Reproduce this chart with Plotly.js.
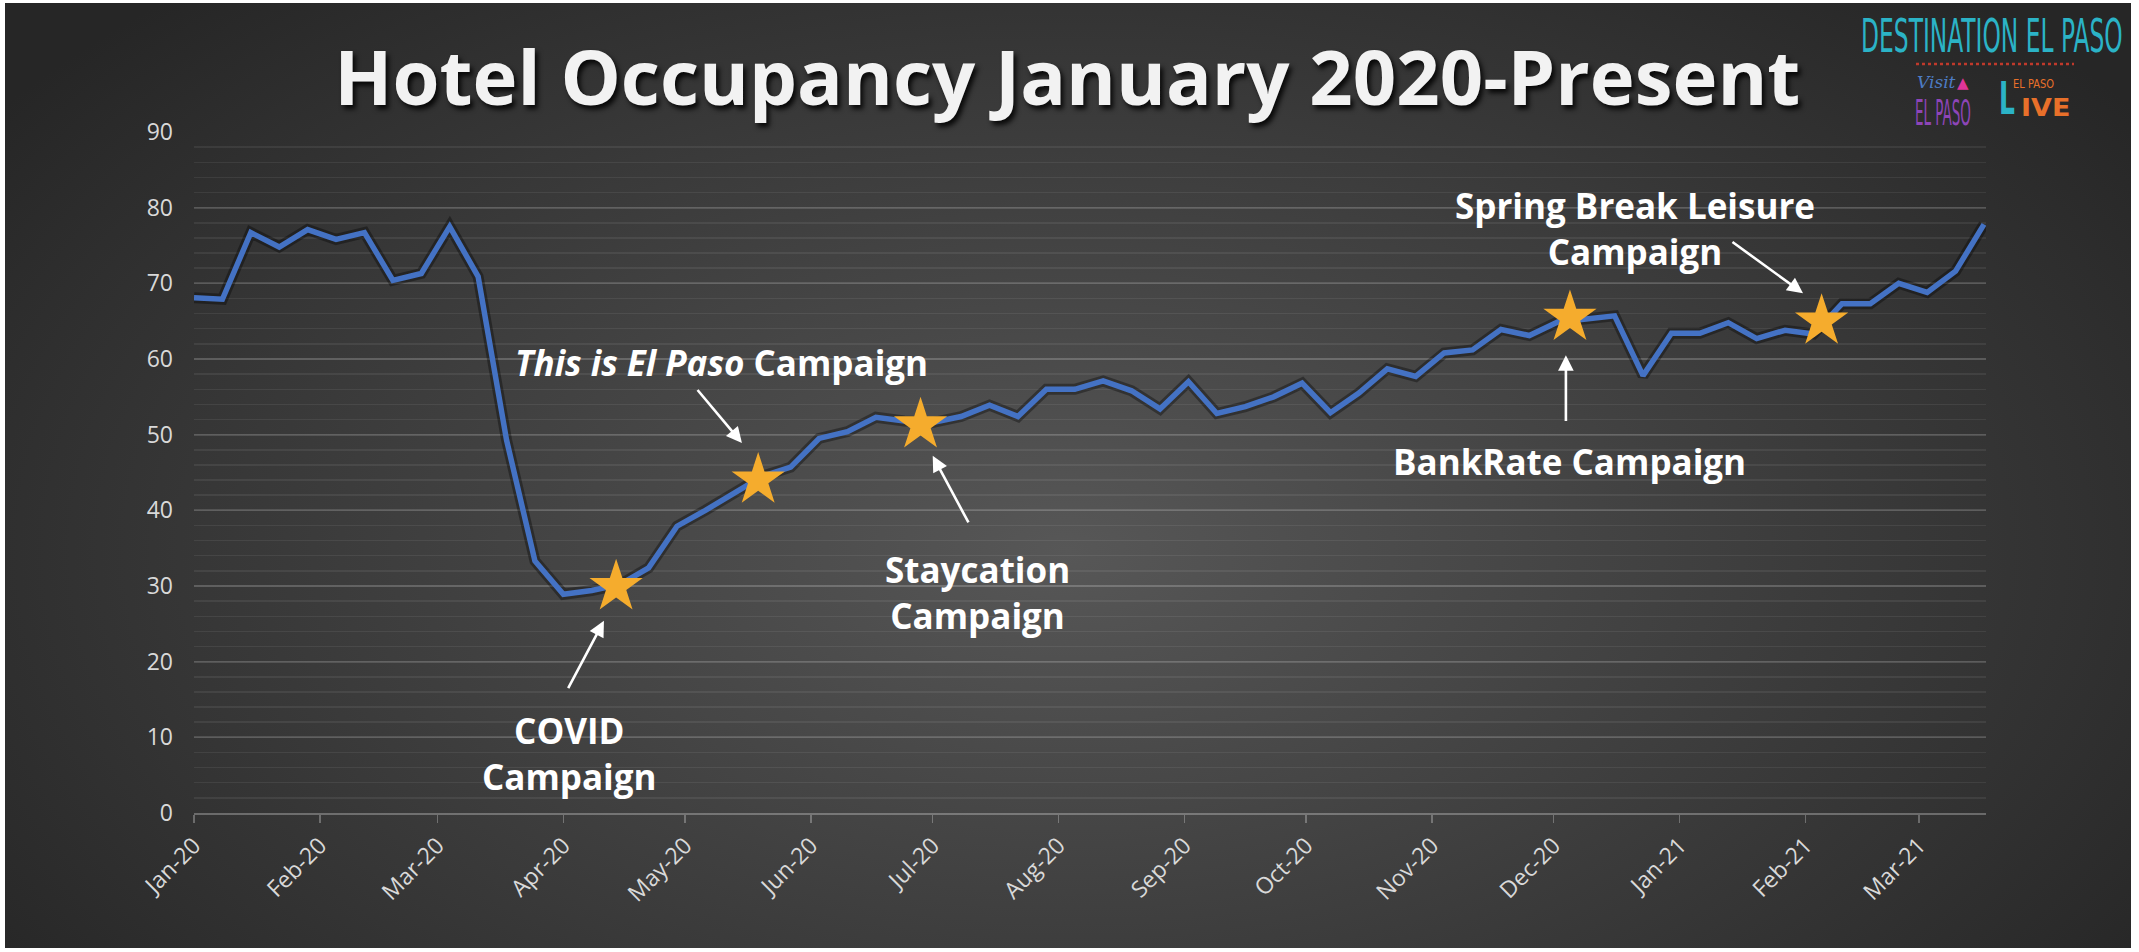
<!DOCTYPE html>
<html>
<head>
<meta charset="utf-8">
<script src="https://cdn.plot.ly/plotly-3.0.1.min.js"></script>
<style>
  html, body { margin: 0; padding: 0; background: #ffffff; width: 2139px; height: 952px; overflow: hidden; }
  #bg { position: absolute; left: 5px; top: 3px; right: 8px; bottom: 4px;
        background: radial-gradient(ellipse 62% 80% at 50% 58%, #575757 0%, #414141 45%, #262626 100%); }
  #chart { position: absolute; left: 0; top: 0; width: 2139px; height: 952px; }
</style>
</head>
<body>
<div id="bg"></div>
<div id="chart"></div>
<script>
// ---- Data (weekly hotel occupancy, %) ----
const weeks = [
  '2020-01-04','2020-01-11','2020-01-18','2020-01-25',
  '2020-02-01','2020-02-08','2020-02-15','2020-02-22','2020-02-29',
  '2020-03-07','2020-03-14','2020-03-21','2020-03-28',
  '2020-04-04','2020-04-11','2020-04-18','2020-04-25',
  '2020-05-02','2020-05-09','2020-05-16','2020-05-23','2020-05-30',
  '2020-06-06','2020-06-13','2020-06-20','2020-06-27',
  '2020-07-04','2020-07-11','2020-07-18','2020-07-25',
  '2020-08-01','2020-08-08','2020-08-15','2020-08-22','2020-08-29',
  '2020-09-05','2020-09-12','2020-09-19','2020-09-26',
  '2020-10-03','2020-10-10','2020-10-17','2020-10-24','2020-10-31',
  '2020-11-07','2020-11-14','2020-11-21','2020-11-28',
  '2020-12-05','2020-12-12','2020-12-19','2020-12-26',
  '2021-01-02','2021-01-09','2021-01-16','2021-01-23','2021-01-30',
  '2021-02-06','2021-02-13','2021-02-20','2021-02-27',
  '2021-03-06','2021-03-13','2021-03-20'
];
const occupancy = [
  68.1, 67.9, 76.7, 74.8,
  77.1, 75.8, 76.7, 70.4, 71.3,
  77.5, 70.9, 49.3, 33.3,
  28.9, 29.4, 30.2, 32.4,
  37.9, 40.0, 42.3, 44.5, 45.7,
  49.5, 50.4, 52.3, 51.8,
  51.6, 52.4, 53.9, 52.4,
  56.0, 56.0, 57.1, 55.8, 53.4,
  57.0, 52.8, 53.7, 55.0,
  56.8, 52.9, 55.5, 58.7, 57.7,
  60.8, 61.2, 63.9, 63.1,
  64.9, 65.3, 65.7, 57.8,
  63.4, 63.4, 64.8, 62.7, 63.8,
  63.3, 67.3, 67.3, 70.0,
  68.8, 71.6, 77.8
];
// Campaign launch markers (stars)
const campaignDates  = ['2020-04-17', '2020-05-22', '2020-07-01', '2020-12-08', '2021-02-08'];
const campaignValues = [29.9, 44.0, 51.3, 65.5, 65.0];
const campaignLabels = [
  'COVID<br>Campaign',
  '<i>This is El Paso</i> Campaign',
  'Staycation<br>Campaign',
  'BankRate Campaign',
  'Spring Break Leisure<br>Campaign'
];
const yTickValues = [0, 10, 20, 30, 40, 50, 60, 70, 80, 90];

// ---- Geometry helpers (paper coords from pixels for logo items) ----
const L = 194, R = 153, T = 132, B = 139, W = 2139, H = 952;
const pw = W - L - R, ph = H - T - B;
const px = x => (x - L) / pw;
const py = y => (H - B - y) / ph;

const labelFont = { family: 'Open Sans, sans-serif', size: 35, color: '#ffffff' };
const narrow = 'Liberation Sans Narrow, DejaVu Sans Condensed, sans-serif';

const traces = [
  { // soft shadow under the line
    x: weeks, y: occupancy, type: 'scatter', mode: 'lines',
    line: { color: 'rgba(0,0,0,0.35)', width: 11, shape: 'linear' },
    hoverinfo: 'skip', showlegend: false
  },
  {
    x: weeks, y: occupancy, type: 'scatter', mode: 'lines', name: 'Occupancy',
    line: { color: '#4472C4', width: 5.5, shape: 'linear' },
    showlegend: false
  },
  {
    x: campaignDates, y: campaignValues, type: 'scatter', mode: 'markers',
    marker: { symbol: 'star', size: 40, color: '#F5AC2D', line: { width: 0 } },
    showlegend: false
  }
];

const arrow = (hx, hy, tx, ty) => ({
  x: hx, y: hy, ax: tx, ay: ty, xref: 'x', yref: 'y', axref: 'x', ayref: 'y',
  text: '', showarrow: true, arrowhead: 2, arrowsize: 1.2, arrowwidth: 2.6,
  arrowcolor: '#ffffff', standoff: 0, startstandoff: 0
});
const label = (x, y, i) => ({
  x: x, y: y, xref: 'x', yref: 'y', text: '<b>' + campaignLabels[i] + '</b>',
  showarrow: false, font: labelFont, xanchor: 'center', yanchor: 'middle', align: 'center'
});
const logo = (x, y, text, font) => ({
  xref: 'paper', yref: 'paper', x: px(x), y: py(y), text: text,
  showarrow: false, xanchor: 'center', yanchor: 'middle', font: font
});

const annotations = [
  label('2020-04-05 14:00', 7.9, 0),
  label('2020-05-13', 59.6, 1),
  label('2020-07-15', 29.1, 2),
  label('2020-12-08', 46.4, 3),
  label('2020-12-24', 77.2, 4),
  arrow('2020-04-14', 25.4, '2020-04-05', 16.3),
  arrow('2020-05-18', 48.9, '2020-05-06 18:00', 56.1),
  arrow('2020-07-04', 47.2, '2020-07-13', 38.2),
  arrow('2020-12-07', 60.5, '2020-12-07', 51.6),
  arrow('2021-02-03 10:00', 68.7, '2021-01-16 16:00', 75.6),
  // logo (indices 10..16)
  logo(1992, 36, 'DESTINATION EL PASO', { family: narrow, size: 26, color: '#2BB3C6' }),
  logo(1936, 82, '<i>Visit</i>', { family: 'DejaVu Serif, serif', size: 17, color: '#4d7cc4' }),
  logo(1963, 83, '▲', { family: 'DejaVu Sans, sans-serif', size: 15, color: '#e0359a' }),
  logo(1943, 113, 'EL PASO', { family: narrow, size: 15, color: '#8E45B8' }),
  logo(2007, 98, 'L', { family: 'DejaVu Sans, sans-serif', size: 25, weight: 'bold', color: '#2BB3C6' }),
  logo(2034, 85, 'EL PASO', { family: narrow, size: 11, color: '#E8702A' }),
  logo(2045, 108, 'IVE', { family: 'DejaVu Sans, sans-serif', size: 27, weight: 'bold', color: '#E8702A' })
];

const shapes = [
  { type: 'line', xref: 'paper', yref: 'paper', x0: px(1916), x1: px(2074), y0: py(64), y1: py(64),
    line: { color: '#C0392B', width: 2.5, dash: 'dot' } }
];

const layout = {
  width: W, height: H,
  paper_bgcolor: 'rgba(0,0,0,0)', plot_bgcolor: 'rgba(0,0,0,0)',
  margin: { l: L, r: R, t: T, b: B, pad: 0 },
  showlegend: false,
  hovermode: false,
  title: {
    text: '<b>Hotel Occupancy January 2020-Present</b>',
    x: 0.499, xanchor: 'center', y: 1 - 78 / H, yanchor: 'middle',
    font: { family: 'Open Sans, sans-serif', size: 76, color: '#F2F2F2',
            shadow: '3px 4px 5px rgba(0,0,0,0.85)' }
  },
  xaxis: {
    type: 'date',
    range: ['2020-01-04', '2021-03-20 12:00'],
    tick0: '2020-01-04', dtick: 'M1', tickformat: '%b-%y',
    tickangle: -45,
    ticks: 'outside', ticklen: 8, tickwidth: 1.5, tickcolor: 'rgba(255,255,255,0.28)',
    showgrid: false, zeroline: false,
    showline: true, linecolor: 'rgba(255,255,255,0.28)', linewidth: 2,
    tickfont: { family: 'Open Sans, sans-serif', size: 23, color: '#D9D9D9' },
    fixedrange: true
  },
  yaxis: {
    range: [0, 90],
    tickvals: yTickValues,
    showgrid: true, gridcolor: 'rgba(255,255,255,0.14)', gridwidth: 2,
    minor: { dtick: 2, showgrid: true, gridcolor: 'rgba(255,255,255,0.07)', gridwidth: 1.5 },
    zeroline: false, showline: false, ticks: '',
    ticklabelstandoff: 20,
    tickfont: { family: 'Open Sans, sans-serif', size: 23, color: '#D9D9D9' },
    fixedrange: true
  },
  annotations: annotations,
  shapes: shapes
};

Plotly.newPlot('chart', traces, layout, { staticPlot: true, displayModeBar: false }).then(() => {
  // stretch the condensed logo lettering vertically, as in the original logo
  const stretch = (idx, s) => {
    const g = document.querySelector('.annotation[data-index="' + idx + '"] text');
    if (g) { g.style.transformBox = 'fill-box'; g.style.transformOrigin = 'center'; g.style.transform = 'scaleY(' + s + ')'; }
  };
  stretch(10, 1.75);
  stretch(13, 2.4);
  stretch(14, 1.75);
  stretch(15, 1.1);
  stretch(16, 0.9);
});
</script>
</body>
</html>
